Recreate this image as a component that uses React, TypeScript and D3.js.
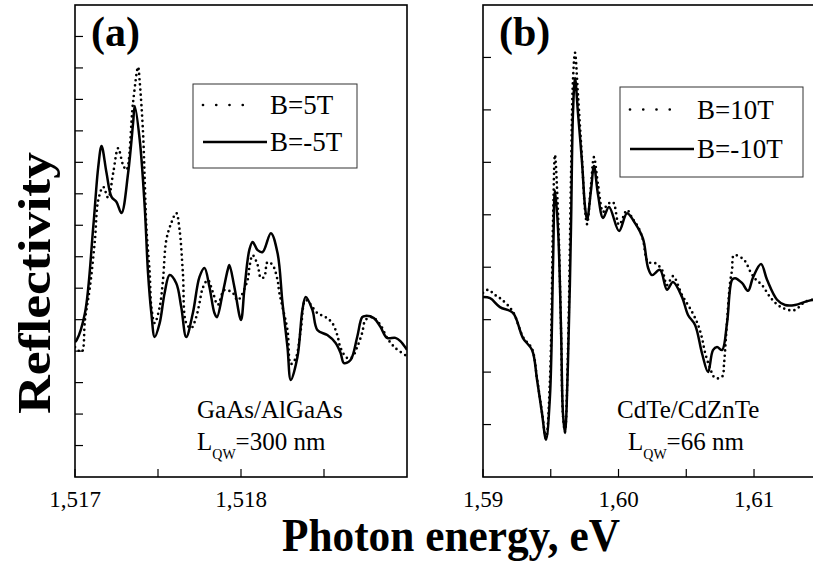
import React from "react";
import * as d3 from "d3";

// ---- data (energy in eV, reflectivity in arb. units) ----
const gaasDotted: [number, number][] = [
  [1.517, 4.13], [1.51704, 3.97], [1.51706, 4.99], [1.51709, 6.04], [1.51712, 7.53],
  [1.51714, 8.8], [1.51717, 9.22], [1.5172, 8.87], [1.51723, 9.66], [1.51726, 10.45],
  [1.51729, 9.91], [1.51731, 9.76], [1.51735, 11.92], [1.51738, 13.03], [1.51739, 12.55],
  [1.51741, 10.93], [1.51742, 9.44], [1.51743, 7.94], [1.51745, 6.48], [1.51746, 5.4],
  [1.51748, 4.89], [1.51751, 5.4], [1.51753, 6.26], [1.51755, 7.53], [1.51758, 8.07],
  [1.51761, 8.39], [1.51763, 7.85], [1.51765, 6.48], [1.51767, 4.89], [1.5177, 4.73],
  [1.51773, 5.08], [1.51775, 5.53], [1.51777, 6.01], [1.5178, 6.26], [1.51783, 5.88],
  [1.51786, 5.47], [1.5179, 5.94], [1.51795, 5.85], [1.51798, 5.62], [1.51804, 6.26],
  [1.51805, 6.64], [1.51807, 7.05], [1.5181, 6.74], [1.51812, 6.32], [1.51814, 6.36],
  [1.51816, 6.83], [1.51819, 6.74], [1.51822, 6.26], [1.51823, 5.88], [1.51825, 5.4],
  [1.51828, 4.67], [1.5183, 3.59], [1.51833, 3.78], [1.51836, 4.67], [1.51839, 5.62],
  [1.51846, 5.21], [1.51851, 5.08], [1.51855, 4.89], [1.51858, 4.51], [1.5186, 4.1],
  [1.51864, 3.78], [1.51867, 3.81], [1.5187, 4.13], [1.51873, 4.58], [1.51875, 4.99],
  [1.51879, 5.08], [1.51884, 4.83], [1.51888, 4.42], [1.51893, 4.1], [1.519, 3.84],
];

const gaasSolid: [number, number][] = [
  [1.517, 4.29], [1.51701, 4.35], [1.51706, 5.21], [1.51711, 7.95], [1.51714, 9.85],
  [1.51716, 10.52], [1.51719, 9.66], [1.51722, 8.9], [1.51725, 8.74], [1.51728, 8.39],
  [1.51732, 9.66], [1.51735, 11.25], [1.51736, 11.79], [1.51739, 10.71], [1.51742, 8.58],
  [1.51744, 6.48], [1.51746, 5.21], [1.51748, 4.45], [1.51751, 4.89], [1.51754, 5.85],
  [1.51757, 6.42], [1.51761, 6.16], [1.51764, 5.4], [1.51767, 4.45], [1.51771, 5.21],
  [1.51775, 6.36], [1.51778, 6.64], [1.51781, 6.04], [1.51784, 5.21], [1.517855, 5.08],
  [1.51789, 5.85], [1.51792, 6.58], [1.51793, 6.74], [1.51796, 6.04], [1.518, 4.99],
  [1.51802, 5.94], [1.51805, 7.21], [1.51807, 7.47], [1.5181, 7.21], [1.51813, 7.15],
  [1.51818, 7.75], [1.51822, 7.12], [1.51825, 5.53], [1.51828, 4.13], [1.5183, 3.08],
  [1.51834, 3.81], [1.51837, 5.31], [1.51839, 5.72], [1.51843, 5.31], [1.51846, 4.67],
  [1.51852, 4.51], [1.51857, 4.26], [1.5186, 3.94], [1.51862, 3.62], [1.51866, 3.72],
  [1.5187, 4.45], [1.51873, 5.08], [1.51875, 5.12], [1.5188, 5.05], [1.51884, 4.77],
  [1.51888, 4.42], [1.51893, 4.42], [1.51896, 4.32], [1.519, 4.04],
];

const cdteDotted: [number, number][] = [
  [1.59, 3.51], [1.59037, 3.57], [1.59089, 3.47], [1.5914, 3.38], [1.59221, 3.15],
  [1.59295, 2.67], [1.59362, 2.44], [1.59399, 1.87], [1.59435, 1.24], [1.59465, 0.74],
  [1.59494, 1.85], [1.59517, 4.9], [1.59531, 6.14], [1.59554, 5.0], [1.59576, 2.8],
  [1.5959, 1.18], [1.59605, 0.86], [1.59627, 2.42], [1.59649, 5.66], [1.59664, 7.57],
  [1.59679, 8.09], [1.59701, 7.28], [1.59731, 6.05], [1.59753, 5.09], [1.59768, 4.82],
  [1.59797, 5.57], [1.59819, 6.1], [1.59849, 5.57], [1.59886, 5.05], [1.59915, 5.19],
  [1.59959, 5.24], [1.60004, 4.81], [1.60063, 5.09], [1.601, 4.94], [1.60144, 4.77],
  [1.60181, 4.52], [1.60218, 4.1], [1.60269, 4.08], [1.60321, 3.95], [1.60358, 3.66],
  [1.60402, 3.83], [1.60469, 3.47], [1.60542, 3.15], [1.60587, 2.9], [1.60616, 2.65],
  [1.60638, 2.38], [1.60675, 2.08], [1.60712, 1.89], [1.60764, 1.91], [1.60779, 2.17],
  [1.60793, 2.67], [1.60823, 3.7], [1.60838, 3.95], [1.60852, 4.23], [1.60926, 4.14],
  [1.60978, 3.89], [1.61015, 3.76], [1.61059, 3.66], [1.61125, 3.41], [1.61199, 3.24],
  [1.61295, 3.18], [1.61376, 3.34], [1.61435, 3.38],
];

const cdteSolid: [number, number][] = [
  [1.59, 3.43], [1.59052, 3.41], [1.59125, 3.24], [1.59221, 3.13], [1.59295, 2.65],
  [1.59362, 2.42], [1.59399, 1.85], [1.59435, 1.22], [1.59465, 0.71], [1.59494, 1.53],
  [1.59517, 4.08], [1.59531, 5.47], [1.59554, 4.71], [1.59576, 2.8], [1.5959, 1.22],
  [1.59605, 0.84], [1.59627, 2.17], [1.59649, 4.71], [1.59664, 6.94], [1.59679, 7.61],
  [1.59701, 6.94], [1.59731, 5.99], [1.59753, 5.15], [1.59768, 4.9], [1.59797, 5.47],
  [1.59819, 5.93], [1.59849, 5.38], [1.59886, 4.94], [1.5993, 5.15], [1.60004, 4.69],
  [1.60063, 5.03], [1.60122, 4.84], [1.60181, 4.54], [1.60218, 3.99], [1.60247, 3.85],
  [1.60306, 3.95], [1.60358, 3.57], [1.60402, 3.72], [1.60469, 3.43], [1.60513, 3.09],
  [1.60565, 2.9], [1.60616, 2.36], [1.60661, 2.0], [1.60697, 2.42], [1.60727, 2.48],
  [1.60764, 2.42], [1.60801, 2.94], [1.60838, 3.76], [1.6086, 3.79], [1.60911, 3.7],
  [1.60956, 3.55], [1.60993, 3.81], [1.61052, 4.06], [1.61096, 3.76], [1.6117, 3.38],
  [1.61229, 3.28], [1.61303, 3.28], [1.61376, 3.34], [1.61435, 3.38],
];

const gaasLegend = ["B=5T", "B=-5T"];
const cdteLegend = ["B=10T", "B=-10T"];
const gaasMajorTicks = [1.517, 1.518];
const gaasMinorTicks = [1.5175, 1.5185];
const cdteMajorTicks = [1.59, 1.6, 1.61];
const cdteMinorTicks = [1.595, 1.605];

const W = 813;
const H = 561;
const top = 5;
const bottom = 477;
const TICK = 8;
const serif = "Liberation Serif, Times, serif";
const tf = { fontFamily: serif };

type PanelProps = {
  left: number;
  right: number;
  xDomain: [number, number];
  yMax: number;
  dotted: [number, number][];
  solid: [number, number][];
  major: number[];
  minor: number[];
  digits: number;
  letter: string;
  legend: string[];
  legendBox: { x: number; y: number; w: number; h: number };
  material: string;
  lqw: string;
  noteX: number[];
};

function Panel(p: PanelProps) {
  const x = d3.scaleLinear().domain(p.xDomain).range([p.left, p.right]);
  const y = d3.scaleLinear().domain([0, p.yMax]).range([bottom, top]);
  const line = d3
    .line<[number, number]>()
    .x((d) => x(d[0]))
    .y((d) => y(d[1]))
    .curve(d3.curveCatmullRom.alpha(0.5));
  const fmt = (v: number) => v.toFixed(p.digits).replace(".", ",");
  const yTicks = d3.range(1, p.yMax);
  const lb = p.legendBox;
  const row1 = lb.y + lb.h * 0.25;
  const row2 = lb.y + lb.h * 0.69;
  const sx0 = lb.x + 10;
  const sx1 = lb.x + 74;

  return (
    <g>
      <defs>
        <clipPath id={"clip" + p.letter}>
          <rect x={p.left} y={top} width={p.right - p.left} height={bottom - top} />
        </clipPath>
      </defs>
      <g clipPath={`url(#clip${p.letter})`}>
        <path d={line(p.dotted) || ""} fill="none" stroke="#000" strokeWidth={2.7}
          strokeDasharray="0 5.2" strokeLinecap="round" />
        <path d={line(p.solid) || ""} fill="none" stroke="#000" strokeWidth={2.5} />
      </g>
      {yTicks.map((t) => (
        <line key={"y" + t} x1={p.left} x2={p.left + TICK} y1={y(t)} y2={y(t)} stroke="#000" strokeWidth={1.2} />
      ))}
      {[...p.major, ...p.minor].map((t) => (
        <line key={"x" + t} x1={x(t)} x2={x(t)} y1={bottom} y2={bottom - TICK} stroke="#000" strokeWidth={1.2} />
      ))}
      {p.major.map((t) => (
        <text key={"l" + t} x={x(t)} y={507} textAnchor="middle" style={tf} fontSize={23}>
          {fmt(t)}
        </text>
      ))}
      <rect x={p.left} y={top} width={p.right - p.left} height={bottom - top} fill="none" stroke="#000" strokeWidth={1.6} />
      <text x={p.left + 16} y={46} style={tf} fontWeight="bold" fontSize={42}>
        ({p.letter})
      </text>
      <rect x={lb.x} y={lb.y} width={lb.w} height={lb.h} fill="#fff" stroke="#333" strokeWidth={1} />
      <line x1={sx0} x2={sx0 + 53} y1={row1} y2={row1} stroke="#000" strokeWidth={2.7} strokeDasharray="0 13.25" strokeLinecap="round" />
      <line x1={sx0} x2={sx1} y1={row2} y2={row2} stroke="#000" strokeWidth={2.5} />
      {p.legend.map((s, i) => (
        <text key={s} x={sx1 + 3} y={(i === 0 ? row1 : row2) + 9} style={tf} fontSize={27}>
          {s}
        </text>
      ))}
      <text x={p.noteX[0]} y={418} style={tf} fontSize={25}>
        {p.material}
      </text>
      <text x={p.noteX[1]} y={450} style={tf} fontSize={25}>
        L<tspan fontSize={14} dy={9}>QW</tspan>
        <tspan dy={-9}>={p.lqw}</tspan>
      </text>
    </g>
  );
}

export default function App() {
  return (
    <svg width={W} height={H} style={{ position: "absolute", left: 0, top: 0, background: "#fff" }}>
      <Panel
        left={75}
        right={407}
        xDomain={[1.517, 1.519]}
        yMax={15}
        dotted={gaasDotted}
        solid={gaasSolid}
        major={gaasMajorTicks}
        minor={gaasMinorTicks}
        digits={3}
        letter="a"
        legend={gaasLegend}
        legendBox={{ x: 193, y: 84, w: 164, h: 84 }}
        material="GaAs/AlGaAs"
        lqw="300 nm"
        noteX={[197, 197]}
      />
      <Panel
        left={483}
        right={815}
        xDomain={[1.59, 1.6145]}
        yMax={9}
        dotted={cdteDotted}
        solid={cdteSolid}
        major={cdteMajorTicks}
        minor={cdteMinorTicks}
        digits={2}
        letter="b"
        legend={cdteLegend}
        legendBox={{ x: 620, y: 87, w: 183, h: 90 }}
        material="CdTe/CdZnTe"
        lqw="66 nm"
        noteX={[617, 628]}
      />
      <text x={451} y={551} textAnchor="middle" style={tf} fontWeight="bold" fontSize={46}
        textLength={338} lengthAdjust="spacingAndGlyphs">
        Photon energy, eV
      </text>
      <text transform="translate(50,283) rotate(-90)" textAnchor="middle" style={tf}
        fontWeight="bold" fontSize={46} textLength={262} lengthAdjust="spacingAndGlyphs">
        Reflectivity
      </text>
    </svg>
  );
}
